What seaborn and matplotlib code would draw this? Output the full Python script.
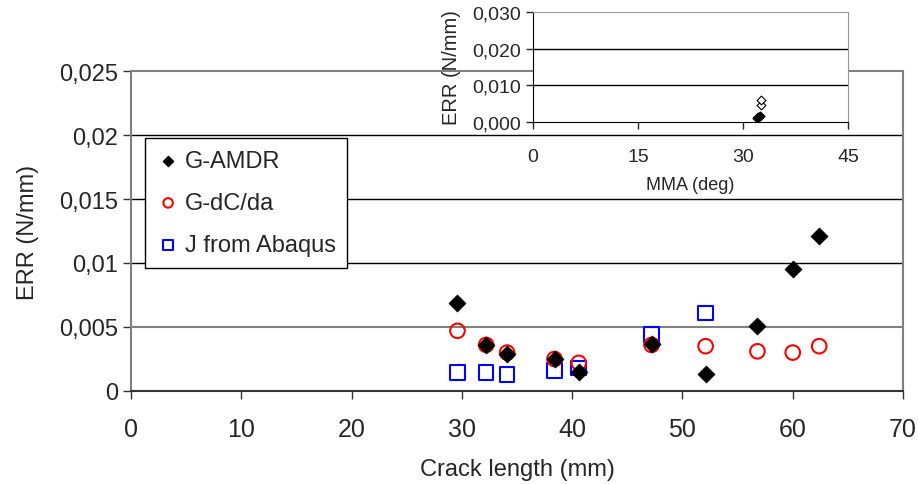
import numpy as np
import pandas as pd
import matplotlib
matplotlib.use("Agg")
import matplotlib.pyplot as plt
import seaborn as sns
from matplotlib.ticker import FuncFormatter

# Main chart data
crack_length = [29.6, 32.2, 34.1, 38.4, 40.6, 47.2, 52.1, 56.8, 60.0, 62.4]
g_amdr = [0.0069, 0.0036, 0.0029, 0.0025, 0.0015, 0.0037, 0.0013, 0.0051, 0.0095, 0.0121]
g_dcda = [0.0047, 0.0036, 0.0030, 0.0025, 0.0022, 0.0036, 0.0035, 0.0031, 0.0030, 0.0035]
j_length = [29.6, 32.2, 34.1, 38.4, 40.6, 47.2, 52.1]
j_abaqus = [0.00145, 0.00145, 0.0013, 0.0016, 0.0018, 0.0044, 0.0061]

# Inset data
mma_filled = [32.0, 32.2, 32.4]
err_filled = [0.0012, 0.0014, 0.0015]
mma_open = [32.6, 32.6]
err_open = [0.0047, 0.0060]

sns.set_style("white")
plt.rcParams['font.family'] = ['Liberation Sans', 'DejaVu Sans']

fig = plt.figure(figsize=(9.18, 4.85), dpi=100)
ax = fig.add_axes([0.1427, 0.1918, 0.841, 0.6597])

main = pd.DataFrame({'x': crack_length, 'amdr': g_amdr, 'dcda': g_dcda})
jdf = pd.DataFrame({'x': j_length, 'j': j_abaqus})

sns.scatterplot(data=main, x='x', y='amdr', ax=ax, marker='D', s=75,
                color='black', edgecolor='black', linewidth=0.5,
                label='G-AMDR', zorder=5)
sns.scatterplot(data=main, x='x', y='dcda', ax=ax, marker='o', s=110,
                facecolor='none', edgecolor='red', linewidth=1.5,
                label='G-dC/da', zorder=4)
sns.scatterplot(data=jdf, x='x', y='j', ax=ax, marker='s', s=110,
                facecolor='none', edgecolor='blue', linewidth=1.5,
                label='J from Abaqus', zorder=3)

ax.set_xlim(0, 70)
ax.set_ylim(0, 0.025)
ax.set_xticks(np.arange(0, 71, 10))
ax.set_yticks([0, 0.005, 0.01, 0.015, 0.02, 0.025])
ax.set_yticklabels(['0', '0,005', '0,01', '0,015', '0,02', '0,025'])
for yv in [0.01, 0.015, 0.02]:
    ax.axhline(yv, color='black', lw=1, zorder=1)
ax.axhline(0.005, color='#808080', lw=1.5, zorder=1)
for sp in ax.spines.values():
    sp.set_color('#808080')
    sp.set_linewidth(1.5)
ax.spines['bottom'].set_color('#333333')
ax.tick_params(axis='both', direction='out', length=6, width=1,
               color='#333333', labelsize=17, left=True, bottom=True)
ax.tick_params(axis='x', pad=13, labelsize=18)
ax.set_xlabel('Crack length (mm)', fontsize=17, labelpad=12)
ax.set_ylabel('ERR (N/mm)', fontsize=17, labelpad=14)

leg = ax.legend(loc='upper left', bbox_to_anchor=(0.0175, 0.79), fontsize=17,
                frameon=True, fancybox=False, edgecolor='black',
                labelspacing=0.85, handletextpad=0.2, borderpad=0.5,
                handlelength=1.0, borderaxespad=0, framealpha=1,
                markerscale=0.65)
leg.get_frame().set_linewidth(1)

# Inset
ins = fig.add_axes([0.5806, 0.7464, 0.3431, 0.2268])
ins.set_facecolor('white')
ins.scatter(mma_filled, err_filled, marker='D', s=20, color='black', zorder=5)
ins.scatter(mma_open, err_open, marker='D', s=20, facecolor='white',
            edgecolor='black', linewidth=0.8, zorder=5)
ins.set_xlim(0, 45)
ins.set_ylim(0, 0.03)
ins.set_xticks([0, 15, 30, 45])
ins.set_yticks([0, 0.01, 0.02, 0.03])
ins.yaxis.set_major_formatter(FuncFormatter(lambda v, p: f"{v:.3f}".replace('.', ',')))
for yv in [0.01, 0.02]:
    ins.axhline(yv, color='black', lw=1, zorder=1)
ins.spines['left'].set_color('black')
ins.spines['bottom'].set_color('black')
ins.spines['right'].set_color('#999999')
ins.spines['top'].set_color('#999999')
ins.tick_params(axis='both', direction='out', length=5, width=1,
                labelsize=14, left=True, bottom=True)
ins.tick_params(axis='x', pad=14)
ins.set_xlabel('MMA (deg)', fontsize=13, labelpad=8)
ins.set_ylabel('ERR (N/mm)', fontsize=14.5, labelpad=8)

fig.savefig('out.png', dpi=100)
